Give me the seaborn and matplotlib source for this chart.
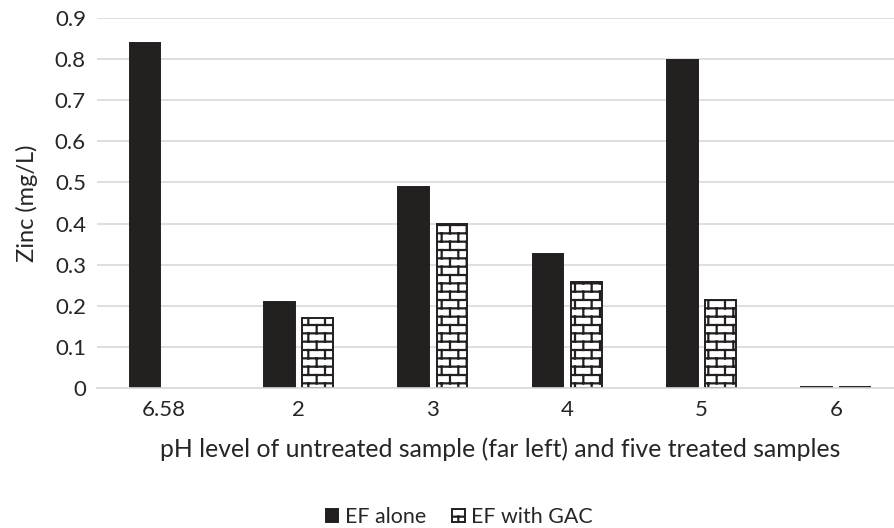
"""
Zinc concentration vs pH: EF alone vs EF with GAC, grouped bar chart.
"""

import warnings

import matplotlib
matplotlib.use("Agg")
import matplotlib.pyplot as plt
import numpy as np
import pandas as pd
import seaborn as sns
from matplotlib import hatch as mhatch
from matplotlib.path import Path

warnings.filterwarnings("ignore")

# ── Data ─────────────────────────────────────────────────────────────────────
PH_LEVELS = ["6.58", "2", "3", "4", "5", "6"]
EF_ALONE = [0.84, 0.21, 0.49, 0.326, 0.797, 0.003]
EF_GAC = [np.nan, 0.171, 0.40, 0.258, 0.213, 0.002]
SERIES = ["EF alone", "EF with GAC"]

DARK = "#231f20"
TEXT = "#262626"
GRID = "#d9d9d9"


# ── Brick hatch (Excel "horizontal brick" pattern) ──────────────────────────
class BrickHatch(mhatch.HatchPatternBase):
    rows, cols = 12, 6

    def __init__(self, hatch, density):
        segs = []
        if "b" in hatch:
            h = 1.0 / self.rows
            w = 1.0 / self.cols
            for k in range(self.rows + 1):
                segs.append(((0.0, k * h), (1.0, k * h)))
            for k in range(self.rows):
                x = 0.5 * w * (k % 2)
                while x <= 1.0 + 1e-9:
                    segs.append(((x, k * h), (x, (k + 1) * h)))
                    x += w
        self.segs = segs
        self.num_vertices = 2 * len(segs)

    def set_vertices_and_codes(self, vertices, codes):
        for i, (a, b) in enumerate(self.segs):
            vertices[2 * i] = a
            vertices[2 * i + 1] = b
            codes[2 * i] = Path.MOVETO
            codes[2 * i + 1] = Path.LINETO


mhatch._hatch_types.append(BrickHatch)


def main():
    df = pd.DataFrame({
        "ph": PH_LEVELS * 2,
        "zinc": EF_ALONE + EF_GAC,
        "series": [SERIES[0]] * len(PH_LEVELS) + [SERIES[1]] * len(PH_LEVELS),
    })

    sns.set_theme(style="white")
    plt.rcParams["font.family"] = ["Lato", "DejaVu Sans"]
    plt.rcParams["hatch.linewidth"] = 1.6
    plt.rcParams["hatch.color"] = DARK

    fig = plt.figure(figsize=(8.95, 5.28), dpi=100)
    ax = fig.add_axes([97 / 895, 140 / 528, 806 / 895, 370 / 528])

    sns.barplot(
        data=df, x="ph", y="zinc", hue="series",
        order=PH_LEVELS, hue_order=SERIES,
        palette={SERIES[0]: DARK, SERIES[1]: "white"},
        width=0.57, gap=0.2,
        edgecolor=DARK, linewidth=1.4,
        errorbar=None, legend=False, ax=ax,
    )

    # brick texture on the GAC bars
    for patch in ax.containers[1]:
        patch.set_hatch("b")
        patch.set_edgecolor(DARK)
        patch.set_facecolor("white")

    ax.set_ylim(0, 0.9)
    ax.set_xlim(-0.5, len(PH_LEVELS) - 0.5)
    ax.set_yticks(np.arange(0, 0.91, 0.1))
    ax.set_yticklabels(["0"] + [f"{v:.1f}" for v in np.arange(0.1, 0.91, 0.1)])
    ax.yaxis.grid(True, color=GRID, linewidth=1.2)
    ax.set_axisbelow(True)
    for side in ["top", "right", "left"]:
        ax.spines[side].set_visible(False)
    ax.spines["bottom"].set_color(GRID)
    ax.spines["bottom"].set_linewidth(1.2)
    ax.tick_params(axis="both", length=0, labelsize=16, labelcolor=TEXT)
    ax.tick_params(axis="x", pad=9)
    ax.tick_params(axis="y", pad=8)

    ax.set_xlabel("pH level of untreated sample (far left) and five treated samples",
                  fontsize=17.8, color=TEXT, labelpad=12)
    ax.set_ylabel("Zinc (mg/L)", fontsize=17, color=TEXT, labelpad=12)

    fig.legend(
        handles=[ax.containers[0][0], ax.containers[1][1]],
        labels=SERIES,
        loc="lower center", bbox_to_anchor=(0.513, -0.035),
        ncol=2, frameon=False, fontsize=15.4,
        handlelength=0.6, handleheight=0.6, handletextpad=0.3,
        columnspacing=1.2, labelcolor=TEXT,
    )

    fig.savefig("out.png", dpi=100)
    plt.close(fig)


if __name__ == "__main__":
    main()
